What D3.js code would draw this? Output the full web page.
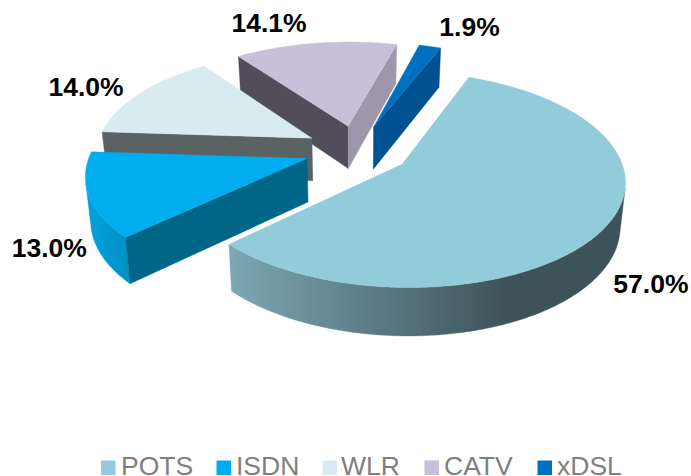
<!DOCTYPE html>
<html>
<head>
<meta charset="utf-8">
<script src="https://cdn.jsdelivr.net/npm/d3@7"></script>
<style>
html,body{margin:0;padding:0;background:#fff;overflow:hidden}
svg{display:block}
text{font-family:"Liberation Sans",Arial,sans-serif}
</style>
</head>
<body>
<div id="chart"></div>
<script>
// ---- data ----
const categories = ["POTS", "ISDN", "WLR", "CATV", "xDSL"];
const shares = [57.0, 13.0, 14.0, 14.1, 1.9];

// ---- styles ----
const topColors = ["#92cbda", "#00aeef", "#d7ebf1", "#c8c0d8", "#0070c0"];
const startFaceColors = ["#5d7f88", "#006688", "#5a6264", "#514d5a", "#004f8a"];
const endFaceColors = ["#5d7f88", "#006688", "#5a6264", "#9e96aa", "#00518f"];
const rimFrom = ["#7ca7b4", "#00a2de", "#5a6264", "#9e96aa", "#00518f"];
const rimTo = ["#3e5359", "#008fc4", "#5a6264", "#9e96aa", "#00518f"];
const labelOffsets = [[47.5, 64], [-39.5, 62], [-54, 3], [-46.5, -11], [39.5, -10]];
const legendSwatchX = [101, 216.5, 322.5, 424.5, 537.5];
const legendTextX = [121, 236, 341, 444, 557];

// ---- layout: a perspective view of an exploded disc ----
const W = 691, H = 476;
const originX = 357.5, originY = 150;
const scaleX = 216, scaleY = 101.9, depthK = 0.1376;
const thickness = 44, bottomShrink = 0.02, explode = 0.245;
const startDeg = 21.7;

const svg = d3.select("#chart").append("svg").attr("width", W).attr("height", H);
const defs = svg.append("defs");

const pie = d3.pie().sort(null)
  .startAngle(startDeg * Math.PI / 180)
  .endAngle((startDeg + 360) * Math.PI / 180);
const arcs = pie(shares).map((d, i) => {
  const mid = (d.startAngle + d.endAngle) / 2;
  return {i, a0: d.startAngle, a1: d.endAngle, mid,
          cx: explode * Math.sin(mid), cy: explode * Math.cos(mid)};
});

function project(X, Y, low) {
  const dep = (1 + depthK * Y) * (low ? 1 + bottomShrink : 1);
  return [originX + scaleX * X / dep,
          originY - (scaleY * Y - (low ? thickness : 0)) / dep];
}
const rim = (s, a, low) => project(s.cx + Math.sin(a), s.cy + Math.cos(a), low);
const apex = (s, low) => project(s.cx, s.cy, low);
const line = d3.line();

function rimAngles(s) {
  const n = Math.max(4, Math.ceil((s.a1 - s.a0) / 0.01));
  return d3.range(n + 1).map(k => s.a0 + (s.a1 - s.a0) * k / n);
}

// rim gradients
arcs.forEach(s => {
  const g = defs.append("linearGradient")
    .attr("id", "rim" + s.i)
    .attr("gradientUnits", "userSpaceOnUse")
    .attr("x1", s.i === 0 ? 232 : 88).attr("x2", s.i === 0 ? 505 : 130)
    .attr("y1", 0).attr("y2", 0);
  g.append("stop").attr("offset", 0).attr("stop-color", rimFrom[s.i]);
  g.append("stop").attr("offset", 1).attr("stop-color", rimTo[s.i]);
});

// draw back to front
const order = arcs.slice().sort((a, b) => d3.descending(a.cy, b.cy));
const gSlices = svg.append("g");
order.forEach(s => {
  const g = gSlices.append("g");
  const faces = [
    {p: apex(s), q: rim(s, s.a0), pl: apex(s, true), ql: rim(s, s.a0, true), c: startFaceColors[s.i]},
    {p: rim(s, s.a1), q: apex(s), pl: rim(s, s.a1, true), ql: apex(s, true), c: endFaceColors[s.i]}
  ];
  // rim: only the run of segments that face the viewer
  const angs = rimAngles(s);
  let run = [];
  const flush = () => {
    if (run.length > 1) {
      const poly = run.map(a => rim(s, a)).concat(run.slice().reverse().map(a => rim(s, a, true)));
      g.append("path").attr("d", line(poly) + "Z")
        .attr("fill", `url(#rim${s.i})`).attr("stroke", `url(#rim${s.i})`).attr("stroke-width", 0.4);
    }
    run = [];
  };
  for (let k = 0; k < angs.length - 1; k++) {
    const a = angs[k], b = angs[k + 1];
    const quad = [rim(s, a), rim(s, b), rim(s, b, true), rim(s, a, true)];
    if (d3.polygonArea(quad) > 0) {
      if (!run.length) run.push(a);
      run.push(b);
    } else flush();
  }
  flush();
  faces.forEach(f => {
    const quad = [f.p, f.q, f.ql, f.pl];
    if (d3.polygonArea(quad) > 0) {
      g.append("path").attr("d", line(quad) + "Z").attr("fill", f.c)
        .attr("stroke", f.c).attr("stroke-width", 0.4);
    }
  });
  const top = [apex(s)].concat(angs.map(a => rim(s, a)));
  g.append("path").attr("d", line(top) + "Z").attr("fill", topColors[s.i])
    .attr("stroke", topColors[s.i]).attr("stroke-width", 0.4);
});

// value labels
svg.append("g").selectAll("text").data(arcs).join("text")
  .attr("x", s => rim(s, s.mid)[0] + labelOffsets[s.i][0])
  .attr("y", s => rim(s, s.mid)[1] + labelOffsets[s.i][1])
  .attr("text-anchor", "middle")
  .attr("font-size", 26.5).attr("font-weight", "bold").attr("fill", "#000")
  .text(s => d3.format(".1f")(shares[s.i]) + "%");

// legend
const legend = svg.append("g");
legend.selectAll("rect").data(categories).join("rect")
  .attr("x", (d, i) => legendSwatchX[i]).attr("y", 460.5)
  .attr("width", 14.5).attr("height", 14.5)
  .attr("fill", (d, i) => topColors[i]);
legend.selectAll("text").data(categories).join("text")
  .attr("x", (d, i) => legendTextX[i]).attr("y", 475.3)
  .attr("font-size", 26.5).attr("fill", "#7f7f7f")
  .text(d => d);
</script>
</body>
</html>
